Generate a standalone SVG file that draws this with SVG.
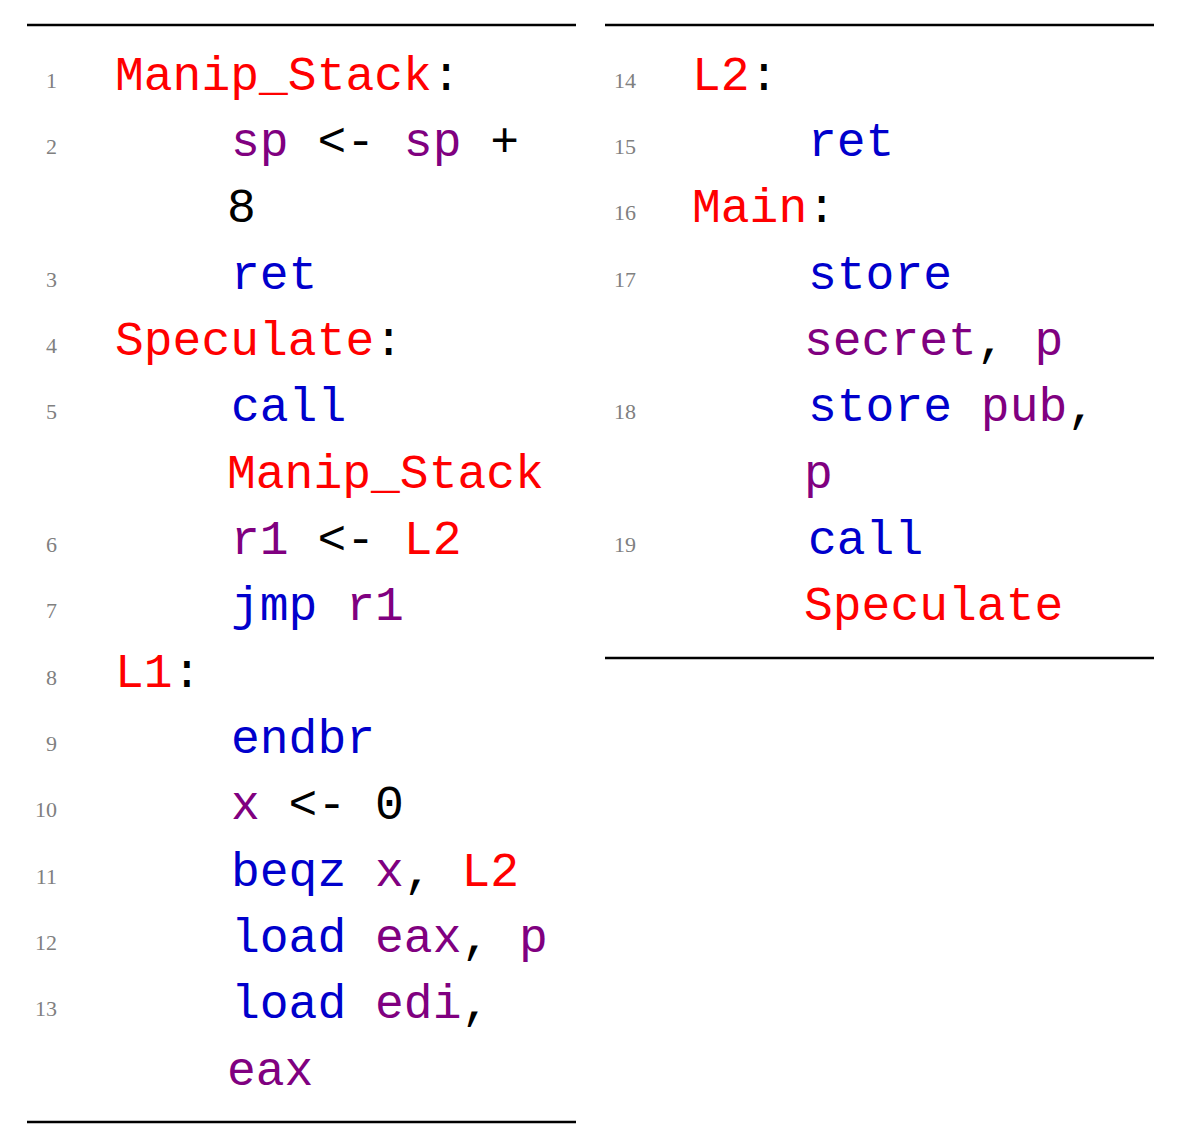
<svg xmlns="http://www.w3.org/2000/svg" width="1178" height="1148" viewBox="0 0 1178 1148">
<style>
.c{font-family:"Liberation Mono","DejaVu Sans Mono",monospace;font-size:48px;fill:#000;white-space:pre}
.n{font-family:"Liberation Serif","DejaVu Serif",serif;font-size:22px;fill:#808080;text-anchor:end}
.r{fill:#ff0000}.b{fill:#0000cc}.p{fill:#800080}
.rule{stroke:#000;stroke-width:2.5}
</style>
<rect width="1178" height="1148" fill="#fff"/>
<g id="rules">
<line class="rule" x1="27" y1="25" x2="576" y2="25"/>
<line class="rule" x1="27" y1="1122" x2="576" y2="1122"/>
<line class="rule" x1="605" y1="25" x2="1154" y2="25"/>
<line class="rule" x1="605" y1="658" x2="1154" y2="658"/>
</g>
<g id="left-numbers">
<text class="n" x="57" y="88">1</text>
<text class="n" x="57" y="154">2</text>
<text class="n" x="57" y="287">3</text>
<text class="n" x="57" y="353">4</text>
<text class="n" x="57" y="419">5</text>
<text class="n" x="57" y="552">6</text>
<text class="n" x="57" y="618">7</text>
<text class="n" x="57" y="685">8</text>
<text class="n" x="57" y="751">9</text>
<text class="n" x="57" y="817">10</text>
<text class="n" x="57" y="884">11</text>
<text class="n" x="57" y="950">12</text>
<text class="n" x="57" y="1016">13</text>
</g>
<g id="left-code" xml:space="preserve">
<text class="c" x="115" y="90"><tspan class="r">Manip_Stack</tspan>:</text>
<text class="c" x="231" y="156"><tspan class="p">sp</tspan> &lt;- <tspan class="p">sp</tspan> +</text>
<text class="c" x="227" y="222">8</text>
<text class="c" x="231" y="289"><tspan class="b">ret</tspan></text>
<text class="c" x="115" y="355"><tspan class="r">Speculate</tspan>:</text>
<text class="c" x="231" y="421"><tspan class="b">call</tspan></text>
<text class="c" x="227" y="488"><tspan class="r">Manip_Stack</tspan></text>
<text class="c" x="231" y="554"><tspan class="p">r1</tspan> &lt;- <tspan class="r">L2</tspan></text>
<text class="c" x="231" y="620"><tspan class="b">jmp</tspan> <tspan class="p">r1</tspan></text>
<text class="c" x="115" y="687"><tspan class="r">L1</tspan>:</text>
<text class="c" x="231" y="753"><tspan class="b">endbr</tspan></text>
<text class="c" x="231" y="819"><tspan class="p">x</tspan> &lt;- 0</text>
<text class="c" x="231" y="886"><tspan class="b">beqz</tspan> <tspan class="p">x</tspan>, <tspan class="r">L2</tspan></text>
<text class="c" x="231" y="952"><tspan class="b">load</tspan> <tspan class="p">eax</tspan>, <tspan class="p">p</tspan></text>
<text class="c" x="231" y="1018"><tspan class="b">load</tspan> <tspan class="p">edi</tspan>,</text>
<text class="c" x="227" y="1085"><tspan class="p">eax</tspan></text>
</g>
<g id="right-numbers">
<text class="n" x="636" y="88">14</text>
<text class="n" x="636" y="154">15</text>
<text class="n" x="636" y="220">16</text>
<text class="n" x="636" y="287">17</text>
<text class="n" x="636" y="419">18</text>
<text class="n" x="636" y="552">19</text>
</g>
<g id="right-code" xml:space="preserve">
<text class="c" x="692" y="90"><tspan class="r">L2</tspan>:</text>
<text class="c" x="808" y="156"><tspan class="b">ret</tspan></text>
<text class="c" x="692" y="222"><tspan class="r">Main</tspan>:</text>
<text class="c" x="808" y="289"><tspan class="b">store</tspan></text>
<text class="c" x="804" y="355"><tspan class="p">secret</tspan>, <tspan class="p">p</tspan></text>
<text class="c" x="808" y="421"><tspan class="b">store</tspan> <tspan class="p">pub</tspan>,</text>
<text class="c" x="804" y="488"><tspan class="p">p</tspan></text>
<text class="c" x="808" y="554"><tspan class="b">call</tspan></text>
<text class="c" x="804" y="620"><tspan class="r">Speculate</tspan></text>
</g>
</svg>
